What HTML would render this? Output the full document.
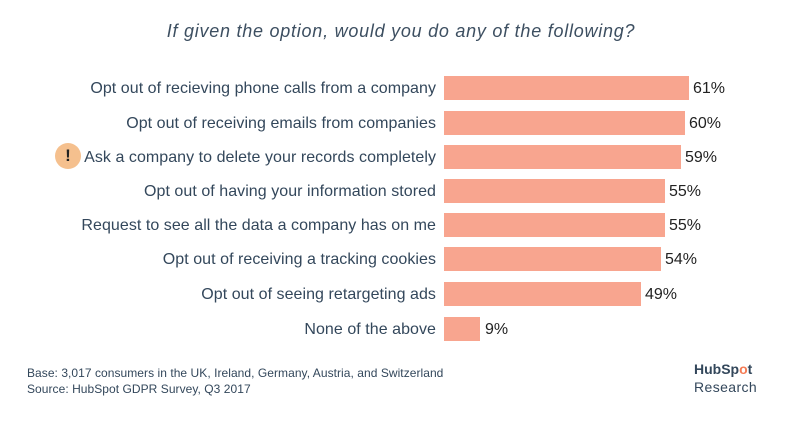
<!DOCTYPE html>
<html><head><style>
body{margin:0;width:802px;height:426px;background:#fff;font-family:"Liberation Sans",sans-serif;color:#33475b;position:relative;overflow:hidden}
.t{position:absolute;left:0;width:802px;top:21px;text-align:center;font-style:italic;font-size:18px;letter-spacing:0.75px;color:#3d4f61}
.l{position:absolute;right:366px;font-size:16px;letter-spacing:0.05px;white-space:nowrap;margin-top:2px}
.b{position:absolute;left:444px;height:24px;background:#f8a58f}
.v{position:absolute;font-size:16px;color:#222;margin-top:1px}
.f{position:absolute;left:27px;font-size:12px;letter-spacing:0.05px}
</style></head><body>
<div class="t">If given the option, would you do any of the following?</div>
<div class="l" style="top:78px">Opt out of recieving phone calls from a company</div>
<div class="b" style="top:76px;width:245px"></div><div class="v" style="left:693px;top:79px">61%</div>
<div class="l" style="top:113px">Opt out of receiving emails from companies</div>
<div class="b" style="top:111px;width:241px"></div><div class="v" style="left:689px;top:114px">60%</div>
<div style="position:absolute;left:55px;top:143px;width:26px;height:26px;border-radius:50%;background:#f5c08e;text-align:center;font-weight:bold;font-size:17px;line-height:26px;color:#222">!</div>
<div class="l" style="top:147px">Ask a company to delete your records completely</div>
<div class="b" style="top:145px;width:237px"></div><div class="v" style="left:685px;top:148px">59%</div>
<div class="l" style="top:181px">Opt out of having your information stored</div>
<div class="b" style="top:179px;width:221px"></div><div class="v" style="left:669px;top:182px">55%</div>
<div class="l" style="top:215px">Request to see all the data a company has on me</div>
<div class="b" style="top:213px;width:221px"></div><div class="v" style="left:669px;top:216px">55%</div>
<div class="l" style="top:249px">Opt out of receiving a tracking cookies</div>
<div class="b" style="top:247px;width:217px"></div><div class="v" style="left:665px;top:250px">54%</div>
<div class="l" style="top:284px">Opt out of seeing retargeting ads</div>
<div class="b" style="top:282px;width:197px"></div><div class="v" style="left:645px;top:285px">49%</div>
<div class="l" style="top:319px">None of the above</div>
<div class="b" style="top:317px;width:36px"></div><div class="v" style="left:485px;top:320px">9%</div>
<div class="f" style="top:366px">Base: 3,017 consumers in the UK, Ireland, Germany, Austria, and Switzerland</div>
<div class="f" style="top:382px">Source: HubSpot GDPR Survey, Q3 2017</div>
<div style="position:absolute;left:694px;top:361px;font-size:14px;font-weight:bold;color:#33475b">HubSp<span style="color:#f57c55">o</span>t</div>
<div style="position:absolute;left:694px;top:379px;font-size:14px;letter-spacing:0.4px;color:#33475b">Research</div>
</body></html>
